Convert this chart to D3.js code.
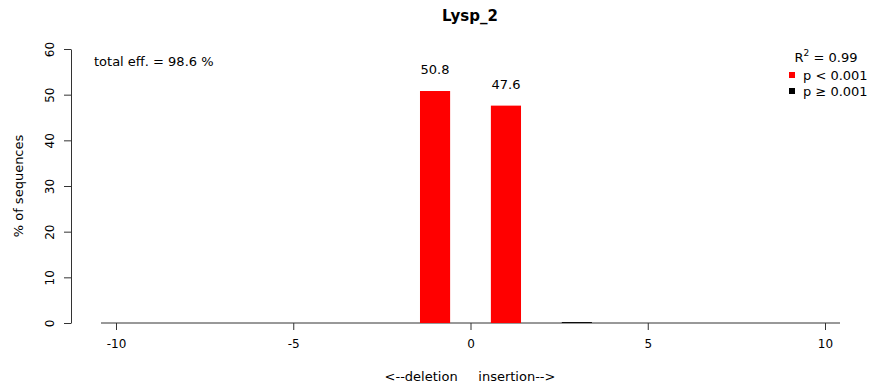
<!DOCTYPE html>
<html><head><meta charset="utf-8">
<script src="https://cdn.jsdelivr.net/npm/d3@7"></script>
<style>body{margin:0;background:#fff}text{font-family:"DejaVu Sans",sans-serif}</style>
</head><body>
<svg id="c" width="871" height="387"></svg>
<script>
const title = "Lysp_2";
const positions = [-10,-9,-8,-7,-6,-5,-4,-3,-2,-1,0,1,2,3,4,5,6,7,8,9,10];
const values    = [0,0,0,0,0,0,0,0,0,50.8,0,47.6,0,0.2,0,0,0,0,0,0,0];
const significant = [false,false,false,false,false,false,false,false,false,true,false,true,false,false,false,false,false,false,false,false,false];
const labelled = [-1, 1];
const xTicks = [-10,-5,0,5,10];
const yTicks = [0,10,20,30,40,50,60];
const totalEff = "total eff. = 98.6 %";
const r2 = "0.99";

const svg = d3.select("#c");
const x = d3.scaleLinear().domain([-10,10]).range([116,825]);
const y = d3.scaleLinear().domain([0,60]).range([323,49]);
const bw = (x(1)-x(0))*0.85;

svg.append("text").attr("x",470).attr("y",21).attr("text-anchor","middle")
  .attr("font-weight","bold").attr("font-size",15).text(title);

// baseline
svg.append("line").attr("x1",101).attr("x2",840).attr("y1",y(0)).attr("y2",y(0))
  .attr("stroke","#333").attr("stroke-width",1);

const data = positions.map((p,i)=>({p, v:values[i], s:significant[i]}));
svg.selectAll("rect.bar").data(data.filter(d=>d.v>0)).join("rect")
  .attr("x",d=>x(d.p)-bw/2).attr("width",bw)
  .attr("y",d=>y(d.v)).attr("height",d=>y(0)-y(d.v))
  .attr("fill",d=>d.s?"#ff0000":"#000");

svg.selectAll("text.val").data(data.filter(d=>labelled.includes(d.p))).join("text")
  .attr("x",d=>x(d.p)).attr("y",d=>y(d.v)-17).attr("text-anchor","middle")
  .attr("font-size",13).text(d=>d.v.toFixed(1));

// x axis
const xa = svg.append("g").attr("transform",`translate(0,${y(0)})`)
  .call(d3.axisBottom(x).tickValues(xTicks).tickSize(7).tickPadding(9).tickFormat(d=>String(d)));
xa.select(".domain").remove();
xa.selectAll("line").attr("stroke","#333");
xa.selectAll("text").attr("font-size",12).style("font-family","DejaVu Sans");

// y axis
const ya = svg.append("g").attr("transform","translate(71,0)")
  .call(d3.axisLeft(y).tickValues(yTicks).tickSize(7).tickSizeOuter(0).tickPadding(0).tickFormat(d=>String(d)));
ya.select(".domain").attr("stroke","#333");
ya.selectAll("line").attr("stroke","#333");
ya.selectAll(".tick text").attr("transform","rotate(-90)").attr("x",0).attr("y",-17)
  .attr("dy","0").attr("text-anchor","middle").attr("font-size",12).style("font-family","DejaVu Sans");

svg.append("text").attr("transform","translate(23,186) rotate(-90)").attr("text-anchor","middle")
  .attr("font-size",13).text("% of sequences");

svg.append("text").attr("x",470).attr("y",381).attr("text-anchor","middle")
  .attr("font-size",13).attr("xml:space","preserve").style("white-space","pre")
  .text("<--deletion     insertion-->");

svg.append("text").attr("x",94).attr("y",66).attr("font-size",13).text(totalEff);

// legend
const lg = svg.append("text").attr("x",826).attr("y",62).attr("text-anchor","middle").attr("font-size",13);
lg.append("tspan").text("R");
lg.append("tspan").attr("dy",-6).attr("font-size",9).text("2");
lg.append("tspan").attr("dy",6).text(" = " + r2);

const legend = [{c:"#ff0000",t:"p < 0.001"},{c:"#000",t:"p \u2265 0.001"}];
legend.forEach((d,i)=>{
  const yy = 75 + i*16;
  svg.append("rect").attr("x",789).attr("y",yy-3).attr("width",6).attr("height",6).attr("fill",d.c);
  svg.append("text").attr("x",803).attr("y",yy+5).attr("font-size",13).text(d.t);
});
</script>
</body></html>
